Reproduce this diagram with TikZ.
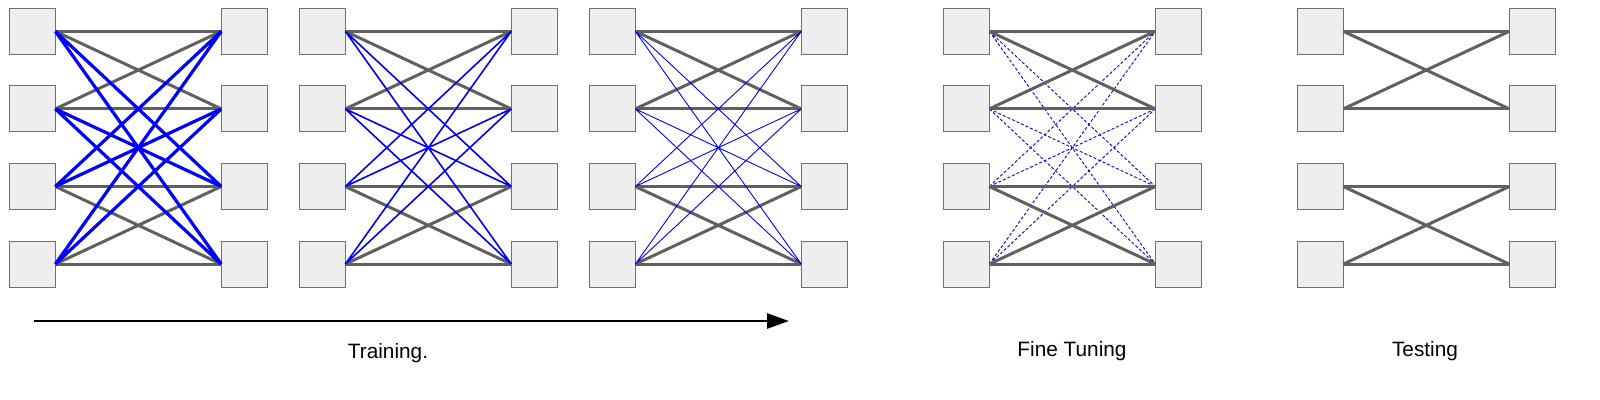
\documentclass[tikz,border=0pt]{standalone}
\usepackage{fontspec}
\setmainfont{Liberation Sans}
\usepackage{tikz}
\usetikzlibrary{positioning,arrows.meta}
\definecolor{cajagris}{RGB}{238,238,238}
\definecolor{bordegris}{RGB}{112,112,112}
\definecolor{aristagris}{RGB}{96,96,96}
\tikzset{caja/.style={draw=bordegris, fill=cajagris, rectangle, minimum size=23pt, inner sep=0pt, outer sep=0pt, line width=0.5pt}}
\tikzset{arista/.style={line width=1.5pt, aristagris}}
\tikzset{gruesa/.style={line width=1.6pt, blue}}
\tikzset{media/.style={line width=0.8pt, blue}}
\tikzset{fina/.style={line width=0.45pt, blue}}
\tikzset{punteada/.style={line width=0.45pt, blue, dash pattern=on 1.5pt off 1pt}}
\tikzset{flecha/.style={-{Triangle[length=11pt, width=7.5pt]}, line width=1.3pt}}

\begin{document}
\begin{tikzpicture}[x=0.5pt, y=-0.5pt, font=\fontsize{10.4}{12.5}\selectfont]
\useasboundingbox (0,0) rectangle (1600,400);

            \node[caja] (a1) at (32.3,31.3) {};
            \node[caja, below= 15.8pt of a1] (a2) {};
            \node[caja, below= 15.8pt of a2] (a3) {};
            \node[caja, below= 15.8pt of a3] (a4) {};
            \node[caja, right= 83pt of a1] (a5) {};
            \node[caja, right= 83pt of a2] (a6) {};
            \node[caja, right= 83pt of a3] (a7) {};
            \node[caja, right= 83pt of a4] (a8) {};

            \node[caja] (b1) at (322.3,31.3) {};
            \node[caja, below= 15.8pt of b1] (b2) {};
            \node[caja, below= 15.8pt of b2] (b3) {};
            \node[caja, below= 15.8pt of b3] (b4) {};
            \node[caja, right= 83pt of b1] (b5) {};
            \node[caja, right= 83pt of b2] (b6) {};
            \node[caja, right= 83pt of b3] (b7) {};
            \node[caja, right= 83pt of b4] (b8) {};

            \node[caja] (c1) at (612.3,31.3) {};
            \node[caja, below= 15.8pt of c1] (c2) {};
            \node[caja, below= 15.8pt of c2] (c3) {};
            \node[caja, below= 15.8pt of c3] (c4) {};
            \node[caja, right= 83pt of c1] (c5) {};
            \node[caja, right= 83pt of c2] (c6) {};
            \node[caja, right= 83pt of c3] (c7) {};
            \node[caja, right= 83pt of c4] (c8) {};

            \node[caja] (d1) at (966.3,31.3) {};
            \node[caja, below= 15.8pt of d1] (d2) {};
            \node[caja, below= 15.8pt of d2] (d3) {};
            \node[caja, below= 15.8pt of d3] (d4) {};
            \node[caja, right= 83pt of d1] (d5) {};
            \node[caja, right= 83pt of d2] (d6) {};
            \node[caja, right= 83pt of d3] (d7) {};
            \node[caja, right= 83pt of d4] (d8) {};

            \node[caja] (e1) at (1320.3,31.3) {};
            \node[caja, below= 15.8pt of e1] (e2) {};
            \node[caja, below= 15.8pt of e2] (e3) {};
            \node[caja, below= 15.8pt of e3] (e4) {};
            \node[caja, right= 83pt of e1] (e5) {};
            \node[caja, right= 83pt of e2] (e6) {};
            \node[caja, right= 83pt of e3] (e7) {};
            \node[caja, right= 83pt of e4] (e8) {};

            \draw[arista] (a1.east) to (a5.west) (a2.east) to (a6.west) (a3.east) to (a7.west) (a4.east) to (a8.west);
            \draw[arista] (a1.east) to (a6.west) (a2.east) to (a5.west) (a3.east) to (a8.west) (a4.east) to (a7.west);
            \draw[gruesa] (a1.east) to (a7.west) (a1.east) to (a8.west) (a2.east) to (a7.west) (a2.east) to (a8.west);
            \draw[gruesa] (a3.east) to (a5.west) (a3.east) to (a6.west) (a4.east) to (a5.west) (a4.east) to (a6.west);

            \draw[arista] (b1.east) to (b5.west) (b2.east) to (b6.west) (b3.east) to (b7.west) (b4.east) to (b8.west);
            \draw[arista] (b1.east) to (b6.west) (b2.east) to (b5.west) (b3.east) to (b8.west) (b4.east) to (b7.west);
            \draw[media] (b1.east) to (b7.west) (b1.east) to (b8.west) (b2.east) to (b7.west) (b2.east) to (b8.west);
            \draw[media] (b3.east) to (b5.west) (b3.east) to (b6.west) (b4.east) to (b5.west) (b4.east) to (b6.west);

            \draw[arista] (c1.east) to (c5.west) (c2.east) to (c6.west) (c3.east) to (c7.west) (c4.east) to (c8.west);
            \draw[arista] (c1.east) to (c6.west) (c2.east) to (c5.west) (c3.east) to (c8.west) (c4.east) to (c7.west);
            \draw[fina] (c1.east) to (c7.west) (c1.east) to (c8.west) (c2.east) to (c7.west) (c2.east) to (c8.west);
            \draw[fina] (c3.east) to (c5.west) (c3.east) to (c6.west) (c4.east) to (c5.west) (c4.east) to (c6.west);

            \draw[punteada] (d1.east) to (d7.west) (d1.east) to (d8.west) (d2.east) to (d7.west) (d2.east) to (d8.west);
            \draw[punteada] (d3.east) to (d5.west) (d3.east) to (d6.west) (d4.east) to (d5.west) (d4.east) to (d6.west);
            \draw[arista] (d1.east) to (d5.west) (d2.east) to (d6.west) (d3.east) to (d7.west) (d4.east) to (d8.west);
            \draw[arista] (d1.east) to (d6.west) (d2.east) to (d5.west) (d3.east) to (d8.west) (d4.east) to (d7.west);

            \draw[arista] (e1.east) to (e5.west) (e2.east) to (e6.west) (e3.east) to (e7.west) (e4.east) to (e8.west);
            \draw[arista] (e1.east) to (e6.west) (e2.east) to (e5.west) (e3.east) to (e8.west) (e4.east) to (e7.west);

            \coordinate (inicio) at (34,321);
            \coordinate (fin) at (789,321);
            \draw[flecha] (inicio) to (fin);

            \node[anchor=base] (entreno) at (388,358) {Training.};
            \node[anchor=base] (ajuste) at (1072,357) {Fine Tuning};
            \node[anchor=base] (prueba) at (1425,357) {Testing};
        \end{tikzpicture}
\end{document}
